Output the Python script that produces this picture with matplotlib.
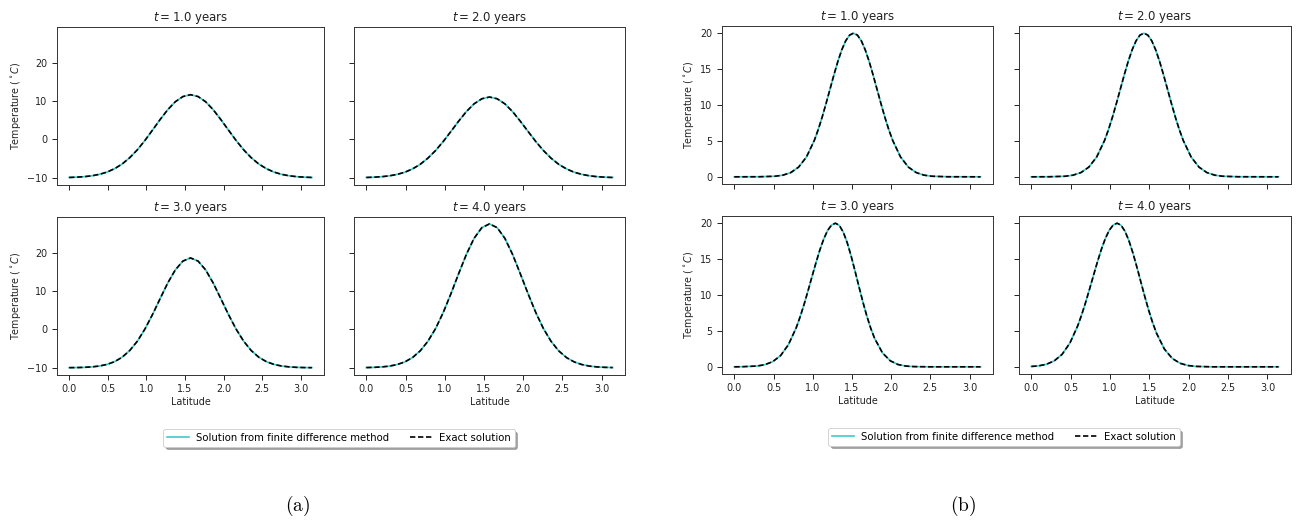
import matplotlib
matplotlib.use("Agg")
import matplotlib.pyplot as plt

W, H = 1301, 523

# ---------------- data (a) ----------------
lat_a = [0.000, 0.098, 0.196, 0.295, 0.393, 0.491, 0.589, 0.687, 0.785, 0.884, 0.982,
         1.080, 1.178, 1.276, 1.374, 1.473, 1.571, 1.669, 1.767, 1.865, 1.963, 2.062,
         2.160, 2.258, 2.356, 2.454, 2.553, 2.651, 2.749, 2.847, 2.945, 3.043, 3.142]

temp_a_t1 = [-9.93, -9.85, -9.72, -9.49, -9.11, -8.52, -7.63, -6.40, -4.75, -2.68, -0.23,
             2.47, 5.22, 7.78, 9.86, 11.22, 11.70, 11.22, 9.86, 7.78, 5.22, 2.47,
             -0.23, -2.68, -4.75, -6.40, -7.63, -8.52, -9.11, -9.49, -9.72, -9.85, -9.93]
temp_a_t2 = [-9.93, -9.86, -9.73, -9.50, -9.13, -8.56, -7.70, -6.50, -4.89, -2.88, -0.50,
             2.12, 4.80, 7.29, 9.31, 10.64, 11.10, 10.64, 9.31, 7.29, 4.80, 2.12,
             -0.50, -2.88, -4.89, -6.50, -7.70, -8.56, -9.13, -9.50, -9.73, -9.86, -9.93]
temp_a_t3 = [-9.98, -9.96, -9.90, -9.78, -9.55, -9.13, -8.41, -7.24, -5.49, -3.04, 0.14,
             3.93, 8.07, 12.13, 15.57, 17.88, 18.70, 17.88, 15.57, 12.13, 8.07, 3.93,
             0.14, -3.04, -5.49, -7.24, -8.41, -9.13, -9.55, -9.78, -9.90, -9.96, -9.98]
temp_a_t4 = [-9.96, -9.90, -9.79, -9.58, -9.17, -8.48, -7.35, -5.60, -3.10, 0.26, 4.48,
             9.39, 14.61, 19.63, 23.82, 26.61, 27.60, 26.61, 23.82, 19.63, 14.61, 9.39,
             4.48, 0.26, -3.10, -5.60, -7.35, -8.48, -9.17, -9.58, -9.79, -9.90, -9.96]

# ---------------- data (b) ----------------
lat_b_t1 = [0.00, 0.32, 0.52, 0.62, 0.72, 0.82, 0.92, 1.02, 1.07, 1.12, 1.17, 1.22, 1.27,
            1.32, 1.37, 1.42, 1.47, 1.52, 1.57, 1.62, 1.67, 1.72, 1.77, 1.82, 1.87, 1.92,
            1.97, 2.02, 2.12, 2.22, 2.32, 2.42, 2.52, 2.72, 3.14]
temp_b_t1 = [0.00, 0.01, 0.08, 0.23, 0.59, 1.35, 2.76, 5.06, 6.57, 8.30, 10.20, 12.19, 14.18,
             16.05, 17.67, 18.93, 19.73, 20.00, 19.73, 18.93, 17.67, 16.05, 14.18, 12.19, 10.20, 8.30,
             6.57, 5.06, 2.76, 1.35, 0.59, 0.23, 0.08, 0.01, 0.00]

lat_b_t2 = [0.00, 0.23, 0.43, 0.53, 0.63, 0.73, 0.83, 0.93, 0.98, 1.03, 1.08, 1.13, 1.18,
            1.23, 1.28, 1.33, 1.38, 1.43, 1.48, 1.53, 1.58, 1.63, 1.68, 1.73, 1.78, 1.83,
            1.88, 1.93, 2.03, 2.13, 2.23, 2.33, 2.43, 2.63, 3.14]
temp_b_t2 = [0.00, 0.01, 0.08, 0.23, 0.59, 1.35, 2.76, 5.06, 6.57, 8.30, 10.20, 12.19, 14.18,
             16.05, 17.67, 18.93, 19.73, 20.00, 19.73, 18.93, 17.67, 16.05, 14.18, 12.19, 10.20, 8.30,
             6.57, 5.06, 2.76, 1.35, 0.59, 0.23, 0.08, 0.01, 0.00]

lat_b_t3 = [0.00, 0.09, 0.29, 0.39, 0.49, 0.59, 0.69, 0.79, 0.84, 0.89, 0.94, 0.99, 1.04,
            1.09, 1.14, 1.19, 1.24, 1.29, 1.34, 1.39, 1.44, 1.49, 1.54, 1.59, 1.64, 1.69,
            1.74, 1.79, 1.89, 1.99, 2.09, 2.19, 2.29, 2.49, 3.14]
temp_b_t3 = [0.00, 0.01, 0.11, 0.30, 0.72, 1.56, 3.08, 5.45, 6.98, 8.70, 10.58, 12.53, 14.45,
             16.24, 17.79, 18.99, 19.74, 20.00, 19.68, 18.74, 17.28, 15.42, 13.32, 11.14, 9.02, 7.07,
             5.36, 3.94, 1.93, 0.83, 0.31, 0.10, 0.03, 0.00, 0.00]

lat_b_t4 = [0.00, 0.09, 0.19, 0.29, 0.39, 0.49, 0.59, 0.64, 0.69, 0.74, 0.79, 0.84, 0.89,
            0.94, 0.99, 1.04, 1.09, 1.14, 1.19, 1.24, 1.29, 1.34, 1.39, 1.44, 1.49, 1.54,
            1.59, 1.69, 1.79, 1.89, 1.99, 2.09, 2.29, 3.14]
temp_b_t4 = [0.05, 0.13, 0.35, 0.82, 1.73, 3.31, 5.73, 7.27, 8.99, 10.84, 12.75, 14.63, 16.37,
             17.87, 19.02, 19.75, 20.00, 19.71, 18.87, 17.55, 15.86, 13.92, 11.87, 9.83, 7.91, 6.18,
             4.69, 2.48, 1.17, 0.49, 0.18, 0.06, 0.00, 0.00]

times = ["1.0", "2.0", "3.0", "4.0"]
xticks = [0.0, 0.5, 1.0, 1.5, 2.0, 2.5, 3.0]
yticks_a = [-10, 0, 10, 20]
yticks_b = [0, 5, 10, 15, 20]

series_a = [(lat_a, temp_a_t1), (lat_a, temp_a_t2), (lat_a, temp_a_t3), (lat_a, temp_a_t4)]
series_b = [(lat_b_t1, temp_b_t1), (lat_b_t2, temp_b_t2), (lat_b_t3, temp_b_t3), (lat_b_t4, temp_b_t4)]

label_fd = "Solution from finite difference method"
label_ex = "Exact solution"

# ---------------- style ----------------
plt.rcParams['font.family'] = ['DejaVu Sans']
plt.rcParams['mathtext.fontset'] = 'dejavusans'
TICK_FS = 6.9
TITLE_FS = 8.5
LEG_FS = 7.3
CYAN = '#3fc9c9'
TXT = '#222222'

fig = plt.figure(figsize=(W / 100, H / 100), dpi=100)


def pos(x0, x1, y0, y1):
    return [x0 / W, 1 - y1 / H, (x1 - x0) / W, (y1 - y0) / H]


boxes_a = [(57, 324, 27, 185), (354, 625, 27, 185), (57, 324, 217, 375), (354, 625, 217, 375)]
boxes_b = [(722, 993, 26, 184), (1019, 1291, 26, 184), (722, 993, 216, 374), (1019, 1291, 216, 374)]


def panel(boxes, series, yticks, ylim, legend_center, caption, caption_x):
    handles = None
    for i, (box, (xs, ys)) in enumerate(zip(boxes, series)):
        ax = fig.add_axes(pos(*box))
        l1, = ax.plot(xs, ys, color=CYAN, lw=1.2, label=label_fd)
        l2, = ax.plot(xs, ys, color='k', lw=1.2, ls=(0, (3.2, 1.6)), label=label_ex)
        handles = [l1, l2]
        ax.set_xlim(-0.157, 3.299)
        ax.set_ylim(*ylim)
        ax.set_xticks(xticks)
        ax.set_yticks(yticks)
        ax.set_title(r"$t = %s$ years" % times[i], fontsize=TITLE_FS, pad=4, color=TXT)
        ax.tick_params(labelsize=TICK_FS, length=3.5, width=0.7, pad=3.3, colors=TXT)
        for s in ax.spines.values():
            s.set_linewidth(0.7)
            s.set_color('#333333')
        if i % 2 == 0:
            ax.set_ylabel(r"Temperature ($^\circ C$)", fontsize=TICK_FS, labelpad=3, color=TXT)
        else:
            ax.tick_params(labelleft=False)
        if i >= 2:
            ax.set_xlabel("Latitude", fontsize=TICK_FS, labelpad=1.5, color=TXT)
        else:
            ax.tick_params(labelbottom=False)
    leg = fig.legend(handles, [label_fd, label_ex], loc='center',
                     bbox_to_anchor=(legend_center[0] / W, 1 - legend_center[1] / H),
                     ncol=2, fontsize=LEG_FS, shadow=True, fancybox=True,
                     handlelength=2.2, handletextpad=0.7, columnspacing=2.0,
                     borderpad=0.35, framealpha=1)
    leg.get_frame().set_linewidth(0.6)
    fig.text(caption_x / W, 1 - 506 / H, r"$\mathrm{(%s)}$" % caption, ha='center', va='center',
             fontsize=14, math_fontfamily='cm', color='k')


panel(boxes_a, series_a, yticks_a, (-11.9, 29.4), (339, 438), "a", 298)
panel(boxes_b, series_b, yticks_b, (-1.0, 21.0), (1004, 437), "b", 963)

fig.savefig("out.png", dpi=100)
